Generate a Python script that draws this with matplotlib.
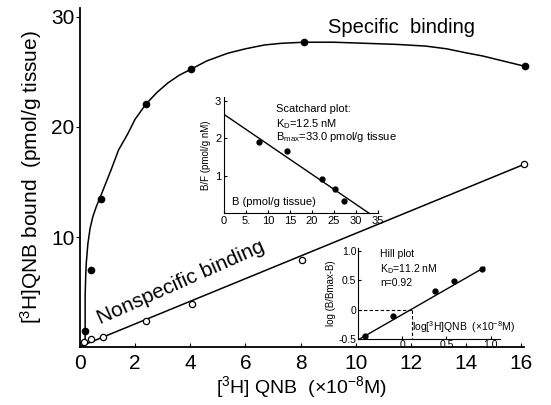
import numpy as np
import matplotlib
matplotlib.use('Agg')
import matplotlib.pyplot as plt

plt.rcParams['font.family'] = ['Liberation Sans', 'DejaVu Sans']
plt.rcParams['mathtext.fontset'] = 'custom'
plt.rcParams['mathtext.rm'] = 'Liberation Sans'
plt.rcParams['mathtext.it'] = 'Liberation Sans'
plt.rcParams['mathtext.default'] = 'regular'
NARROW = ['Liberation Sans Narrow', 'Liberation Sans', 'DejaVu Sans']

# main plot: [3H]QNB (x10^-8 M) vs bound (pmol/g tissue)
spec_x = [0.18, 0.39, 0.77, 2.40, 4.03, 8.12, 16.15]
spec_y = [1.5, 7.0, 13.5, 22.1, 25.25, 27.7, 25.5]
# hand drawn saturation curve, read along its path
curve_x = [0.19, 0.19, 0.21, 0.23, 0.29, 0.37, 0.47, 0.60, 0.75, 1.13, 1.40,
           1.74, 2.0, 2.40, 2.8, 3.19, 3.6, 4.03, 4.6, 5.36, 6.0, 6.69, 7.3,
           8.12, 9.2, 10.36, 11.5, 12.53, 13.3, 13.97, 14.6, 15.17, 16.15]
curve_y = [0.3, 4.6, 6.4, 7.6, 9.4, 10.8, 11.85, 12.8, 13.7, 16.1, 17.9,
           19.4, 20.7, 22.1, 23.15, 24.0, 24.7, 25.25, 26.0, 26.7, 27.1, 27.45, 27.6,
           27.7, 27.7, 27.6, 27.5, 27.35, 27.1, 26.75, 26.45, 26.1, 25.5]
nons_x = [0.16, 0.39, 0.84, 2.41, 4.05, 8.04, 16.1]
nons_y = [0.45, 0.75, 0.96, 2.4, 3.96, 7.9, 16.6]
nons_line_x = [0.05, 16.1]
nons_line_y = [0.1, 16.6]
main_xticks = [0, 2, 4, 6, 8, 10, 12, 14, 16]
main_yticks = [10, 20, 30]

# Scatchard inset
scat_b = [7.97, 14.3, 22.4, 25.2, 27.3]
scat_bf = [1.89, 1.66, 0.91, 0.63, 0.33]
scat_fit_b = [0, 33.0]
scat_fit_bf = [2.64, 0]
scat_xticks = [0, 5, 10, 15, 20, 25, 30, 35]
scat_xlabels = ['0', '5.', '10', '15', '20', '25', '30', '35']
scat_yticks = [1, 2, 3]

# Hill inset
hill_x = [-0.416, -0.105, 0.375, 0.59, 0.90]
hill_y = [-0.45, -0.105, 0.315, 0.49, 0.695]
hill_fit_x = [-0.5, 0.93]
hill_fit_y = [-0.52, 0.72]
hill_half = 0.116
hill_xticks = [0, 0.5, 1.0]
hill_xlabels = ['0', '0.5', '1.0']
hill_yticks = [-0.5, 0, 0.5, 1.0]
hill_ylabels = ['-0.5', '0', '0.5', '1.0']

fig = plt.figure(figsize=(5.51, 4.05), dpi=100)
ax = fig.add_axes([0.145, 0.143, 0.806, 0.837])
ax.set_facecolor('none')

ax.plot(curve_x, curve_y, color='black', lw=1.1, solid_joinstyle='round')
ax.plot(spec_x, spec_y, 'o', color='black', ms=4.5, clip_on=False)
ax.plot(nons_line_x, nons_line_y, color='black', lw=1.1)
ax.plot(nons_x, nons_y, 'o', mfc='white', mec='black', mew=0.9, ms=4.5, clip_on=False)

ax.set_xlim(0, 16.1)
ax.set_ylim(0, 30.8)
ax.spines['top'].set_visible(False)
ax.spines['right'].set_visible(False)
for s in ['left', 'bottom']:
    ax.spines[s].set_linewidth(1.3)
ax.set_xticks(main_xticks)
ax.set_yticks(main_yticks)
ax.tick_params(axis='x', direction='in', length=3, pad=5, labelsize=15)
ax.tick_params(axis='y', direction='out', length=3, pad=1, labelsize=15)
for lab in ax.get_xticklabels() + ax.get_yticklabels():
    lab.set_family(NARROW)

ax.set_xlabel(r'[$^3$H] QNB  (×10$^{-8}$M)', fontsize=14, labelpad=1)
ax.set_ylabel(r'[$^3$H]QNB bound  (pmol/g tissue)', fontsize=15, labelpad=5)

ax.text(9.0, 29.0, 'Specific  binding', fontsize=14.5, ha='left', va='center')
ax.text(3.67, 5.9, 'Nonspecific binding', fontsize=15, ha='center', va='center',
        rotation=24, rotation_mode='anchor')

# Scatchard inset
ax2 = fig.add_axes([0.4065, 0.474, 0.2795, 0.286])
ax2.set_facecolor('none')
ax2.plot(scat_fit_b, scat_fit_bf, color='black', lw=1.0)
ax2.plot(scat_b, scat_bf, 'o', color='black', ms=3.5)
ax2.set_xlim(0, 35.1)
ax2.set_ylim(0, 3.1)
ax2.spines['top'].set_visible(False)
ax2.spines['right'].set_visible(False)
ax2.set_xticks(scat_xticks)
ax2.set_xticklabels(scat_xlabels)
ax2.set_yticks(scat_yticks)
ax2.tick_params(direction='in', length=2.5, pad=2, labelsize=8)
ax2.set_ylabel('B/F (pmol/g nM)', fontsize=7, labelpad=3)
ax2.text(11.8, 2.79, 'Scatchard plot:', fontsize=8, va='center')
ax2.text(11.8, 2.39, r'K$_D$=12.5 nM', fontsize=8, va='center')
ax2.text(11.8, 2.03, r'B$_{max}$=33.0 pmol/g tissue', fontsize=8, va='center')
ax2.text(1.75, 0.30, 'B (pmol/g tissue)', fontsize=8, va='center')

# Hill inset
ax3 = fig.add_axes([0.649, 0.163, 0.258, 0.225])
ax3.set_facecolor('none')
ax3.plot(hill_fit_x, hill_fit_y, color='black', lw=1.0)
ax3.plot(hill_x, hill_y, 'o', color='black', ms=3.5)
ax3.plot([-0.5, hill_half], [0, 0], color='black', lw=0.8, ls=(0, (3, 2)))
ax3.plot([hill_half, hill_half], [0, -0.5], color='black', lw=0.8, ls=(0, (3, 2)))
ax3.set_xlim(-0.5, 1.1)
ax3.set_ylim(-0.5, 1.05)
ax3.spines['top'].set_visible(False)
ax3.spines['right'].set_visible(False)
ax3.set_xticks(hill_xticks)
ax3.set_xticklabels(hill_xlabels)
ax3.set_yticks(hill_yticks)
ax3.set_yticklabels(hill_ylabels)
ax3.tick_params(direction='in', length=2.5, pad=1, labelsize=7.5)
ax3.set_ylabel('log (B/Bmax-B)', fontsize=7, labelpad=2)
ax3.text(-0.247, 0.948, 'Hill plot', fontsize=7.5, va='center')
ax3.text(-0.247, 0.687, r'K$_D$=11.2 nM', fontsize=7.5, va='center')
ax3.text(-0.247, 0.459, 'n=0.92', fontsize=7.5, va='center')
ax3.text(0.112, -0.296, r'log[$^3$H]QNB  (×10$^{-8}$M)', fontsize=7.5, va='center')

fig.savefig('out.png', dpi=100)
